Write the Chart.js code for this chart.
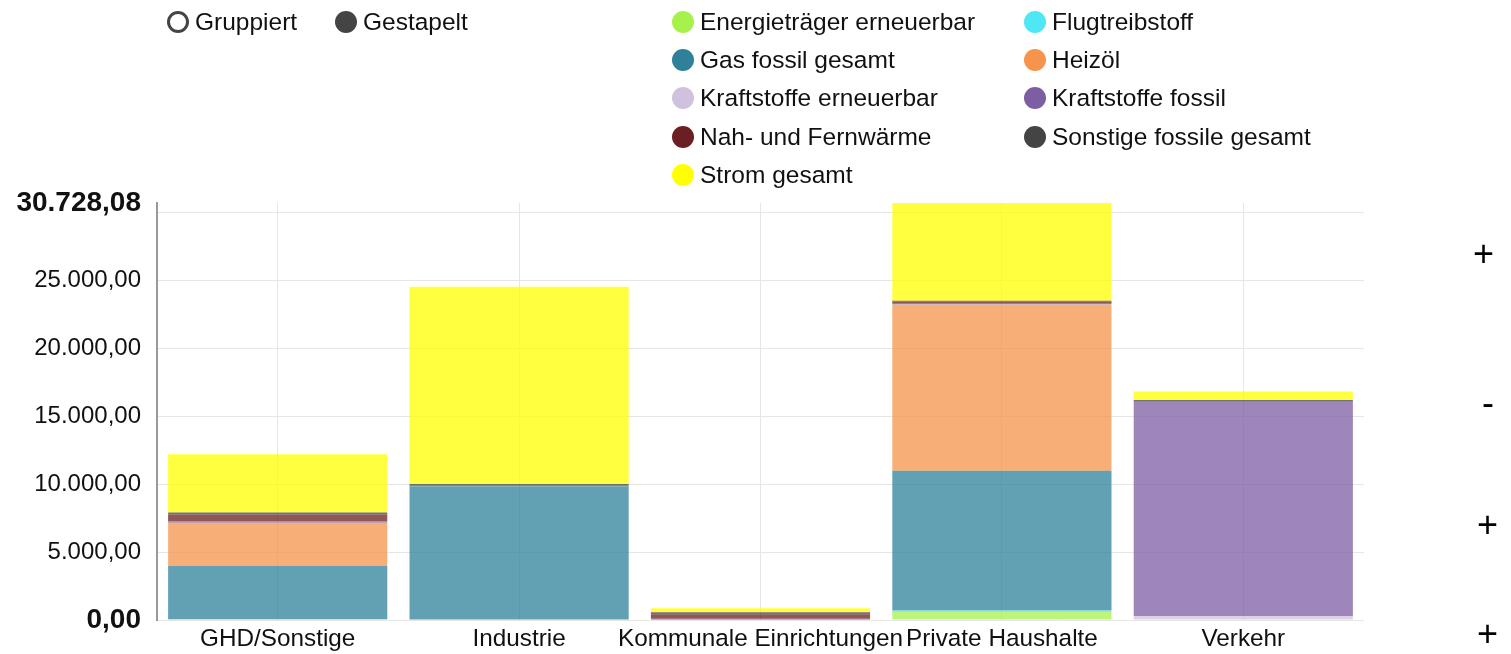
<!DOCTYPE html>
<html>
<head>
<meta charset="utf-8">
<script src="https://cdn.jsdelivr.net/npm/chart.js@4"></script>
<style>
  body { margin: 0; background: #fff; font-family: 'Liberation Sans', Arial, sans-serif; }
  #wrap { position: relative; width: 1511px; height: 654px; overflow: hidden; }
  #chart { position: absolute; left: 0; top: 0; }
  .item { position: absolute; font-size: 24.5px; color: #111; line-height: 24px; white-space: nowrap; }
  .dot { position: absolute; width: 22px; height: 22px; border-radius: 50%; box-sizing: border-box; }
  .sign { position: absolute; font-size: 36px; color: #000; line-height: 36px; }
</style>
</head>
<body>
<div id="wrap">
  <canvas id="chart" width="1511" height="654"></canvas>
  <div id="legend"></div>
  <div class="sign" style="left:1473px;top:236px">+</div>
  <div class="sign" style="left:1482px;top:385px">-</div>
  <div class="sign" style="left:1477px;top:507px">+</div>
  <div class="sign" style="left:1477px;top:616px">+</div>
</div>
<script>
// categories + series
const categories = ['GHD/Sonstige', 'Industrie', 'Kommunale Einrichtungen', 'Private Haushalte', 'Verkehr'];

const energietraegerErneuerbar = [0, 0, 0, 590, 0];
const flugtreibstoff = [60, 0, 0, 110, 0];
const gasFossil = [3920, 9850, 20, 10290, 0];
const heizoel = [3190, 20, 30, 12240, 0];
const kraftstoffeErneuerbar = [0, 0, 0, 20, 300];
const kraftstoffeFossil = [100, 30, 50, 60, 15780];
const nahFernwaerme = [500, 50, 320, 140, 0];
const sonstigeFossil = [143, 80, 150, 76, 140];
const stromGesamt = [4307, 14530, 295, 7202.08, 620];

const yTicks = [0, 5000, 10000, 15000, 20000, 25000, 30000];
const yMax = 30728.08;

const series = [
  { name: 'Energieträger erneuerbar', data: energietraegerErneuerbar, color: '166,242,74' },
  { name: 'Flugtreibstoff', data: flugtreibstoff, color: '78,232,245' },
  { name: 'Gas fossil gesamt', data: gasFossil, color: '46,129,153' },
  { name: 'Heizöl', data: heizoel, color: '245,148,74' },
  { name: 'Kraftstoffe erneuerbar', data: kraftstoffeErneuerbar, color: '208,194,222' },
  { name: 'Kraftstoffe fossil', data: kraftstoffeFossil, color: '126,94,163' },
  { name: 'Nah- und Fernwärme', data: nahFernwaerme, color: '107,31,34' },
  { name: 'Sonstige fossile gesamt', data: sonstigeFossil, color: '68,68,68' },
  { name: 'Strom gesamt', data: stromGesamt, color: '255,255,0' }
];

// german number format
function fmt(v) {
  const parts = v.toFixed(2).split('.');
  const intPart = parts[0].replace(/\B(?=(\d{3})+(?!\d))/g, '.');
  return intPart + ',' + parts[1];
}

// html legend
const legend = document.getElementById('legend');
function addItem(x, y, text, dotStyle) {
  const d = document.createElement('div');
  d.className = 'dot';
  d.style.left = (x - 11) + 'px';
  d.style.top = (y - 11) + 'px';
  Object.assign(d.style, dotStyle);
  legend.appendChild(d);
  const t = document.createElement('div');
  t.className = 'item';
  t.style.left = (x + 17) + 'px';
  t.style.top = (y - 12) + 'px';
  t.textContent = text;
  legend.appendChild(t);
}
addItem(178, 22, 'Gruppiert', { border: '3px solid #444', background: '#fff' });
addItem(346, 22, 'Gestapelt', { background: '#444' });
series.forEach((s, i) => {
  const col = i % 2, row = Math.floor(i / 2);
  addItem(col === 0 ? 683 : 1035, 22 + row * 38.2, s.name, { background: 'rgb(' + s.color + ')' });
});

const FONT = "'Liberation Sans', Arial, sans-serif";

new Chart(document.getElementById('chart'), {
  type: 'bar',
  data: {
    labels: categories,
    datasets: series.map(s => ({
      label: s.name,
      data: s.data,
      backgroundColor: 'rgba(' + s.color + ',0.75)',
      borderWidth: 0,
      categoryPercentage: 1,
      barPercentage: 0.908
    }))
  },
  options: {
    responsive: false,
    animation: false,
    layout: { padding: { top: 203, right: 147, left: 0, bottom: 0 } },
    plugins: { legend: { display: false }, tooltip: { enabled: false } },
    scales: {
      x: {
        stacked: true,
        grid: { display: true, offset: false, color: '#e6e6e6', drawTicks: false },
        border: { display: false },
        ticks: { autoSkip: false, maxRotation: 0, minRotation: 0, padding: 5, color: '#111',
                 font: { family: FONT, size: 24.3 } },
        afterFit: s => { s.height = 34; }
      },
      y: {
        stacked: true,
        min: 0,
        max: yMax,
        afterBuildTicks: s => { s.ticks = yTicks.map(v => ({ value: v })).concat([{ value: yMax }]); },
        afterFit: s => { s.width = 157; },
        grid: {
          drawTicks: false,
          color: ctx => (ctx.tick && ctx.tick.value === yMax) ? 'rgba(0,0,0,0)' : '#e6e6e6'
        },
        border: { display: true, color: '#999', width: 2 },
        ticks: {
          padding: 16,
          color: '#111',
          callback: v => (v === 30000 ? '' : fmt(v)),
          font: ctx => {
            const edge = ctx.tick && (ctx.tick.value === 0 || ctx.tick.value === yMax);
            return { family: FONT, size: edge ? 28 : 24, weight: edge ? 'bold' : 'normal' };
          }
        }
      }
    }
  }
});
</script>
</body>
</html>
